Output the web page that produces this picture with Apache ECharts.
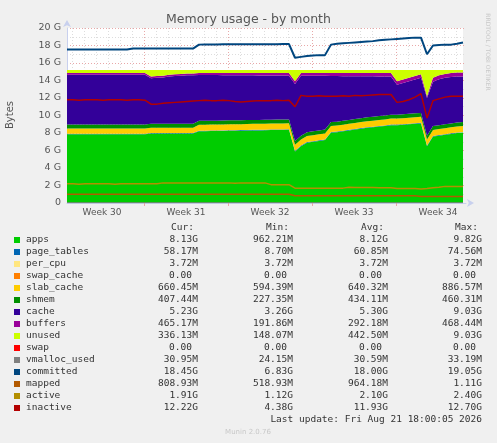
<!DOCTYPE html>
<html><head><meta charset="utf-8">
<script src="https://cdn.jsdelivr.net/npm/echarts@6/dist/echarts.min.js"></script>
<style>html,body{margin:0;padding:0;background:#f0f0f0}#c{width:497px;height:443px}</style>
</head><body><div id="c"></div>
<script>
// values in G, one point every 12 hours
const weekLabels = ['Week 30','Week 31','Week 32','Week 33','Week 34'];
const apps = [7.85,7.85,7.85,7.85,7.85,7.85,7.85,7.85,7.85,7.85,7.85,7.85,7.85,7.85,
 7.95,7.95,7.95,7.95,7.95,7.95,7.95,7.95,
 8.2,8.2,8.22,8.22,8.24,8.25,8.26,8.27,8.28,8.3,8.3,8.32,8.33,8.34,8.35,8.36,
 5.9,6.5,6.9,7.0,7.1,7.2,
 8.05,8.1,8.2,8.3,8.4,8.5,8.6,8.65,8.75,8.8,8.9,
 8.9,8.95,9.0,9.05,9.1,6.5,7.6,7.7,7.8,7.9,8.0,8.05];
const pageTables = [0.06,0.06,0.06,0.06,0.06,0.06,0.06,0.06,0.06,0.06,0.06,0.06,0.06,0.06,0.06,0.06,0.06,0.06,0.06,0.06,0.06,0.06,0.06,0.06,0.06,0.06,0.06,0.06,0.06,0.06,0.06,0.06,0.06,0.06,0.06,0.06,0.06,0.06,0.06,0.06,0.06,0.06,0.06,0.06,0.06,0.06,0.06,0.06,0.06,0.06,0.06,0.06,0.06,0.06,0.06,0.06,0.06,0.06,0.06,0.06,0.06,0.06,0.06,0.06,0.06,0.06,0.06];
const perCpu = [0.004,0.004,0.004,0.004,0.004,0.004,0.004,0.004,0.004,0.004,0.004,0.004,0.004,0.004,0.004,0.004,0.004,0.004,0.004,0.004,0.004,0.004,0.004,0.004,0.004,0.004,0.004,0.004,0.004,0.004,0.004,0.004,0.004,0.004,0.004,0.004,0.004,0.004,0.004,0.004,0.004,0.004,0.004,0.004,0.004,0.004,0.004,0.004,0.004,0.004,0.004,0.004,0.004,0.004,0.004,0.004,0.004,0.004,0.004,0.004,0.004,0.004,0.004,0.004,0.004,0.004,0.004];
const slab = [0.6,0.6,0.6,0.6,0.6,0.6,0.6,0.6,0.6,0.6,0.6,0.6,0.6,0.6,0.6,0.6,0.6,0.6,0.6,0.6,0.6,0.6,
 0.68,0.68,0.68,0.68,0.68,0.68,0.68,0.68,0.68,0.68,0.68,0.68,0.68,0.68,0.68,0.68,0.68,0.68,0.68,0.68,0.68,0.68,0.68,0.68,0.68,0.68,0.68,0.68,0.68,0.68,0.68,0.68,0.68,0.68,0.68,0.68,0.68,0.68,0.68,0.68,0.68,0.68,0.68,0.68,0.68];
const shmem = [0.45,0.45,0.45,0.45,0.45,0.45,0.45,0.45,0.45,0.45,0.45,0.45,0.45,0.45,0.45,0.45,0.45,0.45,0.45,0.45,0.45,0.45,0.45,0.45,0.45,0.45,0.45,0.45,0.45,0.45,0.45,0.45,0.45,0.45,0.45,0.45,0.45,0.45,0.45,0.45,0.45,0.45,0.45,0.45,0.45,0.45,0.45,0.45,0.45,0.45,0.45,0.45,0.45,0.45,0.45,0.45,0.45,0.45,0.45,0.45,0.45,0.45,0.45,0.45,0.45,0.45,0.45];
const cache = [5.69,5.69,5.69,5.69,5.69,5.69,5.69,5.69,5.69,5.69,5.69,5.69,5.69,5.69,
 5.19,5.24,5.29,5.39,5.44,5.49,5.54,5.54,
 5.24,5.24,5.21,5.21,5.18,5.17,5.15,5.14,5.12,5.10,5.09,5.07,5.05,5.04,5.02,5.00,
 6.51,6.86,6.46,6.36,6.26,6.16,
 5.26,5.21,5.10,5.00,4.89,4.79,4.68,4.63,4.52,4.47,4.36,
 3.41,3.56,3.71,3.86,4.01,4.31,5.06,5.26,5.31,5.31,5.26,5.21];
const buffers = [0.2,0.2,0.2,0.2,0.2,0.2,0.2,0.2,0.2,0.2,0.2,0.2,0.2,0.2,
 0.2,0.2,0.2,0.2,0.2,0.2,0.2,0.2,
 0.22,0.22,0.23,0.23,0.24,0.24,0.25,0.25,0.26,0.26,0.27,0.27,0.28,0.28,0.29,0.3,
 0.3,0.3,0.3,0.3,0.3,0.3,
 0.35,0.35,0.36,0.36,0.37,0.37,0.38,0.38,0.39,0.39,0.4,
 0.4,0.4,0.4,0.4,0.4,0.2,0.45,0.45,0.45,0.45,0.45,0.45];
const unused = [0.35,0.35,0.35,0.35,0.35,0.35,0.35,0.35,0.35,0.35,0.35,0.35,0.35,0.35,
 0.75,0.7,0.65,0.55,0.5,0.45,0.4,0.4,
 0.35,0.35,0.35,0.35,0.35,0.35,0.35,0.35,0.35,0.35,0.35,0.35,0.35,0.35,0.35,0.35,
 1.3,0.35,0.35,0.35,0.35,0.35,
 0.35,0.35,0.35,0.35,0.35,0.35,0.35,0.35,0.35,0.35,0.35,
 1.3,1.1,0.9,0.7,0.5,3.0,0.9,0.6,0.45,0.35,0.3,0.3];
const committed = [17.55,17.55,17.55,17.55,17.55,17.55,17.55,17.55,17.55,17.55,17.55,
 17.65,17.65,17.65,17.65,17.65,17.65,17.65,17.65,17.65,17.65,17.65,
 18.1,18.12,18.12,18.12,18.13,18.13,18.13,18.14,18.14,18.14,18.15,18.15,18.15,18.15,18.16,18.16,
 16.6,16.7,16.8,16.85,16.9,16.9,
 18.1,18.2,18.25,18.3,18.35,18.4,18.45,18.5,18.6,18.65,18.7,
 18.75,18.8,18.85,18.9,18.9,17.0,18.0,18.05,18.1,18.1,18.2,18.35];
const mapped = [1.0,1.0,1.0,1.0,1.0,1.0,1.0,1.0,1.0,1.0,1.0,1.0,1.0,1.0,1.0,1.0,1.0,1.0,1.0,1.0,1.0,1.0,1.0,1.0,1.0,1.0,1.0,1.0,1.0,1.0,1.0,1.0,1.0,1.0,1.0,1.0,1.0,1.0,
 0.82,0.82,0.82,0.82,0.82,0.82,0.82,0.82,0.82,0.82,0.82,0.82,0.82,0.82,0.82,0.82,0.82,0.82,0.82,0.82,0.82,
 0.75,0.75,0.75,0.75,0.75,0.75,0.75,0.75];
const active = [2.2,2.2,2.15,2.2,2.2,2.2,2.2,2.2,2.15,2.2,2.2,2.2,2.2,2.2,2.2,2.2,
 2.3,2.3,2.3,2.3,2.3,2.3,2.3,2.3,2.3,2.3,2.3,2.3,2.25,2.3,2.3,2.3,2.3,2.3,
 2.1,2.1,2.1,2.1,
 1.7,1.7,1.7,1.7,1.7,1.7,1.7,1.7,1.7,
 1.8,1.78,1.78,1.76,1.76,1.75,1.75,1.75,
 1.65,1.65,1.65,1.65,1.6,1.65,1.75,1.8,1.9,1.9,1.9,1.9];
const inactive = [11.8,11.8,11.75,11.8,11.8,11.8,11.75,11.8,11.8,11.8,11.75,11.8,11.8,11.75,
 11.3,11.3,11.4,11.45,11.5,11.55,11.6,11.65,
 11.7,11.75,11.7,11.7,11.75,11.7,11.6,11.55,11.6,11.65,11.7,11.7,11.7,11.75,11.7,11.75,
 11.0,12.3,12.2,12.2,12.25,12.2,
 12.2,12.2,12.25,12.2,12.3,12.25,12.3,12.35,12.4,12.4,12.4,
 11.5,11.6,11.8,12.1,12.5,9.7,11.7,11.9,12.1,12.2,12.2,12.2];
const vmalloc = apps.map(()=>0.03);

const legendRows = [
 ['apps','#00CC00','8.13G','962.21M','8.12G','9.82G'],
 ['page_tables','#0066B3','58.17M','8.70M','60.85M','74.56M'],
 ['per_cpu','#FFE680','3.72M','3.72M','3.72M','3.72M'],
 ['swap_cache','#FF8000','0.00','0.00','0.00','0.00'],
 ['slab_cache','#FFCC00','660.45M','594.39M','640.32M','886.57M'],
 ['shmem','#008F00','407.44M','227.35M','434.11M','460.31M'],
 ['cache','#330099','5.23G','3.26G','5.30G','9.03G'],
 ['buffers','#990099','465.17M','191.86M','292.18M','468.44M'],
 ['unused','#CCFF00','336.13M','148.07M','442.50M','9.03G'],
 ['swap','#FF0000','0.00','0.00','0.00','0.00'],
 ['vmalloc_used','#808080','30.95M','24.15M','30.59M','33.19M'],
 ['committed','#00467F','18.45G','6.83G','18.00G','19.05G'],
 ['mapped','#B35A00','808.93M','518.93M','964.18M','1.11G'],
 ['active','#B38F00','1.91G','1.12G','2.10G','2.40G'],
 ['inactive','#B30000','12.22G','4.38G','11.93G','12.70G']
];

const cats = apps.map((_, i) => String(i));
const area = (name, arr, color) => ({name, type:'line', stack:'mem', data:arr, showSymbol:false,
  lineStyle:{width:0}, areaStyle:{color, opacity:1}, itemStyle:{color}, z:3, silent:true});
const line = (name, arr, color, w) => ({name, type:'line', data:arr, showSymbol:false,
  lineStyle:{width:w, color}, itemStyle:{color}, z:4, silent:true});

const dayLines = [], weekLines = [];
for (let h = 10; h < 798; h += 24) {
  if ((h - 154) % 168 === 0) weekLines.push([{coord:[h,0]},{coord:[h,20]}]); else dayLines.push([{coord:[h,0]},{coord:[h,20]}]);
}

const mono = '"DejaVu Sans Mono", monospace';
const g = [];
const cols = [198, 293, 388, 482];
['Cur:','Min:','Avg:','Max:'].forEach((t,k)=>g.push({type:'text', x:cols[k]-4, y:228,
  style:{text:t, font:'9.5px '+mono, fill:'#333', align:'right', verticalAlign:'middle'}}));
legendRows.forEach((r, i) => {
  const y = 240 + i * 12;
  g.push({type:'rect', shape:{x:14, y:y-3, width:6, height:6}, style:{fill:r[1]}});
  g.push({type:'text', x:26, y, style:{text:r[0], font:'9.5px '+mono, fill:'#333', verticalAlign:'middle'}});
  for (let k = 0; k < 4; k++) {
    const t = r[2+k], pad = t === '0.00' ? 6 : 0;
    g.push({type:'text', x:cols[k]-pad, y, style:{text:t, font:'9.5px '+mono, fill:'#333', align:'right', verticalAlign:'middle'}});
  }
});
g.push({type:'text', x:482, y:420, style:{text:'Last update: Fri Aug 21 18:00:05 2026', font:'9.5px '+mono, fill:'#333', align:'right', verticalAlign:'middle'}});
g.push({type:'text', x:248, y:432, style:{text:'Munin 2.0.76', font:'7px "DejaVu Sans"', fill:'#c8c8c8', align:'center', verticalAlign:'middle'}});
g.push({type:'text', x:10, y:115, rotation:Math.PI/2, style:{text:'Bytes', font:'10px "DejaVu Sans"', fill:'#555', align:'center', verticalAlign:'middle'}});
g.push({type:'text', x:488, y:52, rotation:-Math.PI/2, style:{text:'RRDTOOL / TOBI OETIKER', font:'6px "DejaVu Sans"', fill:'#c8c8c8', align:'center', verticalAlign:'middle'}});

const axisLineStyle = {show:true, lineStyle:{color:'#c8d0ee'}, symbol:['none','arrow'], symbolSize:[6,7], symbolOffset:[0,8]};
const chart = echarts.init(document.getElementById('c'), null, {renderer:'canvas'});
chart.setOption({
  animation:false,
  backgroundColor:'#f0f0f0',
  title:{text:'Memory usage - by month', left:'center', top:8, textStyle:{fontFamily:'DejaVu Sans', fontSize:12.5, fontWeight:'normal', color:'#555'}},
  grid:[
    {left:67, right:34, top:28, bottom:240, show:true, backgroundColor:'#fff', borderWidth:0},
    {left:67, right:31, top:28, bottom:240, show:false}
  ],
  xAxis:[
    {type:'category', gridIndex:0, data:cats, boundaryGap:false, show:false},
    {type:'value', gridIndex:1, min:0, max:798,
      axisLine:axisLineStyle,
      axisTick:{show:true, customValues:[154,322,490,658], length:3, lineStyle:{color:'#e8a8a8'}},
      axisLabel:{customValues:[70,238,406,574,742], formatter:v=>weekLabels[Math.round((v-70)/168)], color:'#555', fontFamily:'DejaVu Sans', fontSize:9, margin:5},
      splitLine:{show:false}}
  ],
  yAxis:[
    {type:'value', gridIndex:0, min:0, max:20, interval:2, show:false, splitLine:{show:false}},
    {type:'value', gridIndex:1, min:0, max:20, interval:2,
      axisLine:axisLineStyle,
      axisTick:{show:false},
      axisLabel:{formatter:v=>v===0?'0':v+' G', color:'#555', fontFamily:'DejaVu Sans', fontSize:9.5, margin:6},
      splitLine:{lineStyle:{color:'#e8a8a8', type:[1,2], width:1}},
      minorTick:{show:false, splitNumber:2},
      minorSplitLine:{show:true, lineStyle:{color:'#dddddd', type:[1,2]}}}
  ],
  graphic:g,
  series:[
    {type:'line', xAxisIndex:1, yAxisIndex:1, data:[], z:1, silent:true, markLine:{z:1, silent:true, symbol:'none', label:{show:false},
      data:dayLines, lineStyle:{color:'#dddddd', type:[1,2], width:1}}},
    {type:'line', xAxisIndex:1, yAxisIndex:1, data:[], z:1, silent:true, markLine:{z:1, silent:true, symbol:'none', label:{show:false},
      data:weekLines, lineStyle:{color:'#e8a8a8', type:[1,2], width:1}}},
    area('apps', apps, '#00CC00'),
    area('page_tables', pageTables, '#0066B3'),
    area('per_cpu', perCpu, '#FFE680'),
    area('slab_cache', slab, '#FFCC00'),
    area('shmem', shmem, '#008F00'),
    area('cache', cache, '#330099'),
    area('buffers', buffers, '#990099'),
    area('unused', unused, '#CCFF00'),
    line('vmalloc_used', vmalloc, '#808080', 1),
    line('committed', committed, '#00467F', 2),
    line('mapped', mapped, '#B35A00', 1.5),
    line('active', active, '#B38F00', 1.5),
    line('inactive', inactive, '#B30000', 1.5)
  ]
});
</script></body></html>
